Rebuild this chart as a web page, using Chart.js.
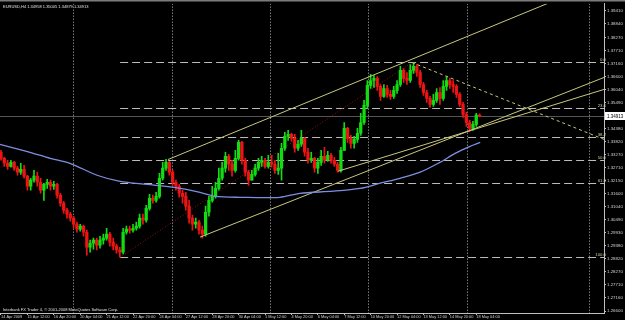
<!DOCTYPE html>
<html>
<head>
<meta charset="utf-8">
<title>EURUSD,H4</title>
<script src="https://cdn.jsdelivr.net/npm/chart.js@4.4.1/dist/chart.umd.min.js"></script>
<style>
  html, body { margin: 0; padding: 0; background: #000; overflow: hidden; }
  #chart { display: block; background: #000; }
</style>
</head>
<body>
<canvas id="chart" width="625" height="320"></canvas>
<script>
// ---- values ----
var symbolTitle = "EURUSD,H4";
var firstOpen = 1.3337;

// H4 candles, one entry per bar (open = previous close)
var closes = [
  1.3311,1.3290,1.3277,1.3294,1.3269,1.3252,1.3264,1.3235,1.3192,1.3218,
  1.3235,1.3209,1.3175,1.3200,1.3209,1.3192,1.3200,1.3154,1.3120,1.3090,
  1.3073,1.3056,1.3030,1.3009,1.3022,1.2996,1.2932,1.2949,1.2962,1.2941,
  1.2962,1.2971,1.2988,1.2954,1.2937,1.2920,1.2911,1.2996,1.3009,1.3005,
  1.3013,1.3022,1.3056,1.3047,1.3098,1.3141,1.3132,1.3149,1.3226,1.3269,
  1.3294,1.3252,1.3209,1.3192,1.3162,1.3149,1.3107,1.3056,1.3030,1.3039,
  1.3005,1.2988,1.3081,1.3132,1.3149,1.3183,1.3226,1.3269,1.3320,1.3286,
  1.3260,1.3311,1.3379,1.3303,1.3252,1.3218,1.3243,1.3269,1.3294,1.3303,
  1.3277,1.3294,1.3286,1.3260,1.3269,1.3354,1.3405,1.3413,1.3396,1.3354,
  1.3371,1.3396,1.3337,1.3303,1.3311,1.3269,1.3294,1.3320,1.3303,1.3324,
  1.3303,1.3286,1.3260,1.3345,1.3439,1.3396,1.3375,1.3392,1.3418,1.3464,
  1.3537,1.3622,1.3643,1.3652,1.3618,1.3575,1.3609,1.3584,1.3575,1.3601,
  1.3626,1.3686,1.3652,1.3643,1.3686,1.3703,1.3677,1.3626,1.3592,1.3567,
  1.3541,1.3558,1.3592,1.3567,1.3618,1.3643,1.3626,1.3618,1.3584,1.3541,
  1.3498,1.3464,1.3439,1.3456,1.34958,1.34913
];
var highs = [
  1.3345,1.3315,1.3303,1.3303,1.3298,1.3277,1.3290,1.3281,1.3239,1.3226,
  1.3260,1.3252,1.3226,1.3205,1.3222,1.3218,1.3213,1.3205,1.3162,1.3128,
  1.3098,1.3081,1.3064,1.3039,1.3030,1.3026,1.3005,1.2962,1.2971,1.2971,
  1.2979,1.2988,1.3013,1.2996,1.2971,1.2945,1.2932,1.3013,1.3022,1.3022,
  1.3030,1.3039,1.3073,1.3073,1.3111,1.3158,1.3154,1.3166,1.3247,1.3294,
  1.3307,1.3298,1.3260,1.3218,1.3200,1.3175,1.3166,1.3132,1.3069,1.3056,
  1.3047,1.3022,1.3107,1.3149,1.3192,1.3209,1.3269,1.3294,1.3337,1.3328,
  1.3303,1.3345,1.3388,1.3384,1.3311,1.3260,1.3260,1.3286,1.3311,1.3320,
  1.3311,1.3324,1.3324,1.3303,1.3332,1.3375,1.3422,1.3430,1.3418,1.3413,
  1.3388,1.3430,1.3401,1.3354,1.3337,1.3315,1.3311,1.3345,1.3358,1.3341,
  1.3332,1.3315,1.3294,1.3358,1.3464,1.3443,1.3409,1.3405,1.3439,1.3503,
  1.3558,1.3643,1.3669,1.3664,1.3660,1.3626,1.3626,1.3622,1.3601,1.3618,
  1.3643,1.3703,1.3694,1.3677,1.3711,1.3720,1.3711,1.3686,1.3635,1.3601,
  1.3575,1.3584,1.3609,1.3613,1.3643,1.3660,1.3652,1.3643,1.3626,1.3592,
  1.3550,1.3507,1.3473,1.3469,1.3503,1.35005
];
var lows = [
  1.3303,1.3277,1.3264,1.3273,1.3260,1.3239,1.3243,1.3226,1.3175,1.3175,
  1.3209,1.3192,1.3162,1.3132,1.3183,1.3175,1.3179,1.3141,1.3107,1.3077,
  1.3056,1.3043,1.3013,1.2996,1.3000,1.2979,1.2898,1.2911,1.2924,1.2920,
  1.2928,1.2945,1.2962,1.2937,1.2920,1.2907,1.2890,1.2903,1.2988,1.2992,
  1.2996,1.3005,1.3013,1.3030,1.3039,1.3090,1.3120,1.3124,1.3141,1.3218,
  1.3260,1.3239,1.3196,1.3175,1.3145,1.3120,1.3090,1.3035,1.3005,1.3013,
  1.2988,1.2971,1.2979,1.3064,1.3124,1.3141,1.3175,1.3218,1.3252,1.3260,
  1.3235,1.3252,1.3303,1.3286,1.3235,1.3196,1.3218,1.3235,1.3260,1.3277,
  1.3269,1.3269,1.3273,1.3247,1.3243,1.3218,1.3345,1.3388,1.3384,1.3337,
  1.3345,1.3362,1.3320,1.3290,1.3294,1.3252,1.3247,1.3281,1.3290,1.3298,
  1.3290,1.3277,1.3252,1.3252,1.3345,1.3379,1.3354,1.3354,1.3379,1.3409,
  1.3456,1.3524,1.3609,1.3613,1.3601,1.3558,1.3571,1.3571,1.3562,1.3567,
  1.3588,1.3618,1.3635,1.3626,1.3635,1.3673,1.3660,1.3613,1.3579,1.3550,
  1.3528,1.3532,1.3550,1.3541,1.3558,1.3601,1.3609,1.3592,1.3571,1.3532,
  1.3486,1.3447,1.3426,1.3430,1.3447,1.34879
];

// bottom axis labels, one every 8 bars
var timeLabels = ['14 Apr 2009','15 Apr 12:00','16 Apr 20:00','20 Apr 04:00','21 Apr 12:00',
  '22 Apr 20:00','24 Apr 04:00','27 Apr 12:00','28 Apr 20:00','30 Apr 04:00','1 May 12:00',
  '4 May 20:00','6 May 04:00','7 May 12:00','10 May 20:00','12 May 04:00','13 May 12:00',
  '14 May 20:00','18 May 04:00'];
var timeLabelBars = [0,8,16,24,32,40,48,56,64,72,80,88,96,104,112,120,128,136,144];

// right axis price labels
var priceTicks = [1.39410,1.38840,1.38270,1.37710,1.37160,1.36600,1.36040,1.35490,1.34930,
  1.34380,1.33820,1.33270,1.32710,1.32150,1.31600,1.31040,1.30490,1.29930,1.29380,1.28820,
  1.28270,1.27710,1.27160,1.26600];

// moving average (bar position / value)
var maBars = [-0.3,8.8,14.9,20.9,29.1,36.1,44.2,52.1,60.3,64.9,72.4,84.5,90.6,100.6,108.8,114.9,120.9,127,133,137.6,142.1,145.2];
var maValues = [1.3371,1.3337,1.3311,1.3290,1.3239,1.3213,1.3200,1.3188,1.3166,1.3149,1.3145,1.3145,1.3162,1.3171,1.3183,1.3205,1.3226,1.3252,1.3294,1.3332,1.3362,1.3379];

// weekly separators (bar position)
var separatorBars = [21.8,51.8,81.5,111.2,141.2,178.2];

// fibonacci retracement between the low and the high
var fibLevels = [0, 23.6, 38.2, 50, 61.8, 100];
var fibLabels = ['0.0','23.6','38.2','50.0','61.8','100.0'];
var fibHigh = 1.3720, fibLow = 1.2890;
var fibLowBar = 36.1, fibHighBar = 124.5;

// trend lines: [barA, priceA, barB, priceB]
var upperChannel = [50.6, 1.3306, 165.5, 1.3971];
var lowerChannel = [60.3, 1.2975, 182.7, 1.3656];
var supportLine = [102.1, 1.3256, 182.7, 1.3605];
var downLine = [124.5, 1.3720, 182.7, 1.3392];

// ---- build datasets ----
var bullColor = '#12dd12';
var bearColor = '#ee1414';
var textFont = 'Liberation Sans';

var opens = closes.map(function(c, i) { return i === 0 ? firstOpen : closes[i - 1]; });
var candleColors = closes.map(function(c, i) { return c >= opens[i] ? bullColor : bearColor; });
var bodyData = closes.map(function(c, i) { return { x: i, y: [opens[i], c] }; });
var wickData = closes.map(function(c, i) { return { x: i, y: [lows[i], highs[i]] }; });
var maData = maBars.map(function(b, i) { return { x: b, y: maValues[i] }; });

function trendSet(pts, color, dash) {
    return {
        type: 'line',
        data: [{ x: pts[0], y: pts[1] }, { x: pts[2], y: pts[3] }],
        borderColor: color,
        borderWidth: 1,
        borderDash: dash || [],
        pointRadius: 0,
        order: 0
    };
}

var last = closes.length - 1;
var lastClose = closes[last];

// Draws the MT4 style objects: separators, fibo levels, bid line, texts
var mtOverlay = {
    id: 'mtOverlay',
    beforeDatasetsDraw: function(chart) {
        var ctx = chart.ctx, xs = chart.scales.x, ys = chart.scales.y, ca = chart.chartArea;
        ctx.save();
        ctx.beginPath();
        ctx.rect(ca.left, ca.top, ca.right - ca.left, ca.bottom - ca.top);
        ctx.clip();
        ctx.lineWidth = 1;

        // period separators
        ctx.strokeStyle = '#b8b8b8';
        ctx.setLineDash([1, 2]);
        separatorBars.forEach(function(b) {
            var x = Math.round(xs.getPixelForValue(b)) + 0.5;
            ctx.beginPath();
            ctx.moveTo(x, ca.top);
            ctx.lineTo(x, ca.bottom);
            ctx.stroke();
        });

        // fibo levels
        ctx.strokeStyle = '#bcbcbc';
        ctx.setLineDash([8, 4]);
        var fx = xs.getPixelForValue(fibLowBar);
        fibLevels.forEach(function(lv) {
            var price = fibHigh - (fibHigh - fibLow) * lv / 100;
            var y = Math.round(ys.getPixelForValue(price)) + 0.5;
            ctx.beginPath();
            ctx.moveTo(fx, y);
            ctx.lineTo(ca.right, y);
            ctx.stroke();
        });

        // fibo base line (low to high)
        ctx.strokeStyle = '#9a1010';
        ctx.setLineDash([1, 2]);
        ctx.beginPath();
        ctx.moveTo(xs.getPixelForValue(fibLowBar), ys.getPixelForValue(fibLow));
        ctx.lineTo(xs.getPixelForValue(fibHighBar), ys.getPixelForValue(fibHigh));
        ctx.stroke();

        // bid line
        ctx.setLineDash([]);
        ctx.strokeStyle = '#555555';
        var by = Math.round(ys.getPixelForValue(lastClose)) + 0.5;
        ctx.beginPath();
        ctx.moveTo(ca.left, by);
        ctx.lineTo(ca.right, by);
        ctx.stroke();
        ctx.restore();
    },
    afterDraw: function(chart) {
        var ctx = chart.ctx, ys = chart.scales.y, ca = chart.chartArea;
        ctx.save();
        ctx.font = '4.3px "' + textFont + '"';

        // fibo level labels
        ctx.fillStyle = '#cfcfa8';
        ctx.textAlign = 'right';
        ctx.textBaseline = 'alphabetic';
        fibLevels.forEach(function(lv, i) {
            var price = fibHigh - (fibHigh - fibLow) * lv / 100;
            var y = Math.round(ys.getPixelForValue(price));
            ctx.fillText(fibLabels[i], ca.right + 2, y - 1);
        });

        // header and copyright
        ctx.textAlign = 'left';
        ctx.fillStyle = '#e0e0e0';
        ctx.font = '4px "' + textFont + '"';
        ctx.fillText(symbolTitle + ' ' + opens[last].toFixed(5) + ' ' + highs[last].toFixed(5) + ' ' +
            lows[last].toFixed(5) + ' ' + lastClose.toFixed(5), 3, 7.5);
        ctx.fillText('Interbank FX Trader 4, \u00a9 2001-2008 MetaQuotes Software Corp.', 3, 310.5);

        // current price label on the axis
        var py = Math.round(ys.getPixelForValue(lastClose));
        ctx.font = '4.5px "' + textFont + '"';
        ctx.fillStyle = '#ffffff';
        ctx.fillRect(ca.right + 1, py - 4, 20, 8);
        ctx.fillStyle = '#000000';
        ctx.textBaseline = 'middle';
        ctx.fillText(lastClose.toFixed(5), ca.right + 3, py + 0.5);

        // window frame at the top
        ctx.fillStyle = '#7c7c7c';
        ctx.fillRect(0, 0, chart.width, 1.5);
        ctx.restore();
    }
};

var ctx = document.getElementById('chart').getContext('2d');
var chart = new Chart(ctx, {
    type: 'bar',
    data: {
        datasets: [
            {
                type: 'line',
                data: maData,
                borderColor: '#7d8ee0',
                borderWidth: 1.3,
                pointRadius: 0,
                tension: 0.3,
                order: 0
            },
            trendSet(upperChannel, '#c8c87e'),
            trendSet(lowerChannel, '#c8c87e'),
            trendSet(supportLine, '#c8c87e'),
            trendSet(downLine, '#c8c87e', [3, 3]),
            {
                data: bodyData,
                backgroundColor: candleColors,
                borderWidth: 0,
                grouped: false,
                barThickness: 2.6,
                minBarLength: 1,
                order: 5
            },
            {
                data: wickData,
                backgroundColor: candleColors,
                borderWidth: 0,
                grouped: false,
                barThickness: 1,
                order: 6
            }
        ]
    },
    options: {
        responsive: false,
        animation: false,
        events: [],
        layout: { padding: { top: 3, left: 0, right: 0, bottom: 0 } },
        plugins: {
            legend: { display: false },
            tooltip: { enabled: false }
        },
        scales: {
            x: {
                type: 'linear',
                min: -0.3,
                max: 182.7,
                offset: false,
                afterBuildTicks: function(scale) {
                    scale.ticks = timeLabelBars.map(function(v) { return { value: v }; });
                },
                afterFit: function(scale) { scale.height = 7; },
                ticks: {
                    autoSkip: false,
                    maxRotation: 0,
                    align: 'start',
                    padding: 0,
                    color: '#d0d0d0',
                    font: { family: textFont, size: 3.9 },
                    callback: function(v) {
                        var k = timeLabelBars.indexOf(v);
                        return k >= 0 ? timeLabels[k] : '';
                    }
                },
                grid: { drawOnChartArea: false, drawTicks: true, tickLength: 2, color: '#c0c0c0', offset: false },
                border: { color: '#c0c0c0' }
            },
            y: {
                type: 'linear',
                position: 'right',
                min: 1.26515,
                max: 1.39708,
                afterBuildTicks: function(scale) {
                    scale.ticks = priceTicks.map(function(v) { return { value: v }; });
                },
                afterFit: function(scale) { scale.width = 21; },
                ticks: {
                    autoSkip: false,
                    padding: 1,
                    color: '#d0d0d0',
                    font: { family: textFont, size: 4.4 },
                    callback: function(v) { return v.toFixed(5); }
                },
                grid: { drawOnChartArea: false, drawTicks: true, tickLength: 2, color: '#c0c0c0' },
                border: { color: '#c0c0c0' }
            }
        }
    },
    plugins: [mtOverlay]
});
</script>
</body>
</html>
